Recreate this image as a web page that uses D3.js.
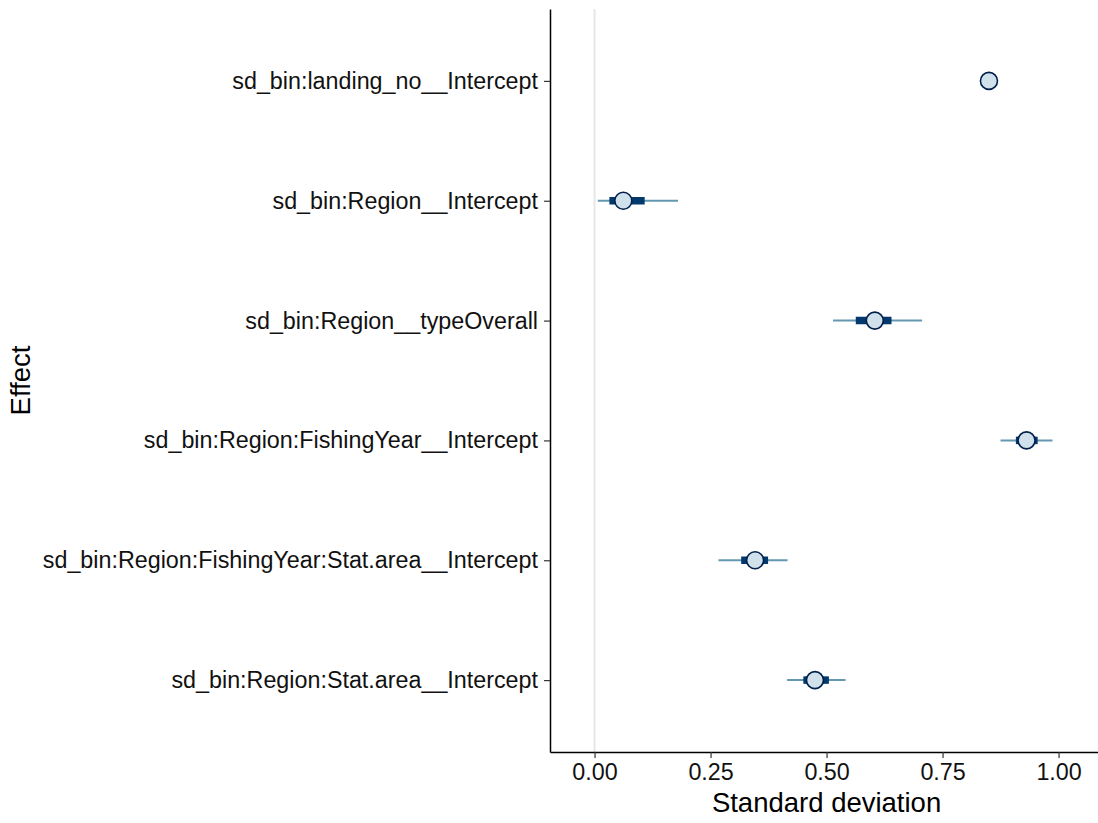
<!DOCTYPE html>
<html>
<head>
<meta charset="utf-8">
<style>
  body { margin: 0; background: #fff; }
  svg { display: block; font-family: "Liberation Sans", Arial, sans-serif; }
  .axis .domain { stroke: #000; stroke-width: 1.5px; }
  .axis .tick line { stroke: #333; stroke-width: 1.2px; }
  .axis .tick text { fill: #111; }
</style>
</head>
<body>
<svg width="1098" height="823"></svg>
<script src="https://d3js.org/d3.v7.min.js"></script>
<script>

var effects = [
  "sd_bin:landing_no__Intercept",
  "sd_bin:Region__Intercept",
  "sd_bin:Region__typeOverall",
  "sd_bin:Region:FishingYear__Intercept",
  "sd_bin:Region:FishingYear:Stat.area__Intercept",
  "sd_bin:Region:Stat.area__Intercept"
];
// posterior median and interval ends, one entry per effect
var medians = [0.850, 0.062, 0.604, 0.931, 0.346, 0.475];
var outerLo = [0.836, 0.007, 0.514, 0.875, 0.267, 0.415];
var outerHi = [0.864, 0.180, 0.706, 0.987, 0.416, 0.541];
var innerLo = [0.842, 0.032, 0.563, 0.908, 0.316, 0.450];
var innerHi = [0.858, 0.108, 0.640, 0.955, 0.374, 0.505];
var xTicks = [0, 0.25, 0.5, 0.75, 1.0];

var svg = d3.select("svg"),
    margin = {top: 9, right: 0, bottom: 71, left: 550},
    width = +svg.attr("width") - margin.left - margin.right,
    height = +svg.attr("height") - margin.top - margin.bottom,
    g = svg.append("g").attr("transform", "translate(" + margin.left + "," + margin.top + ")");

var rows = effects.map(function(e, i) {
  return {name: e, m: medians[i], lo: outerLo[i], hi: outerHi[i], ilo: innerLo[i], ihi: innerHi[i]};
});

var x = d3.scaleLinear()
    .domain([-0.096, 1.085])
    .range([0, width]);

var y = d3.scalePoint()
    .domain(effects)
    .range([0, height])
    .padding(0.6);

// reference line at zero
g.append("line")
    .attr("x1", x(0)).attr("x2", x(0))
    .attr("y1", 0).attr("y2", height)
    .attr("stroke", "#e6e6e6")
    .attr("stroke-width", 2);

var marks = g.selectAll(".row")
  .data(rows)
  .enter().append("g")
    .attr("class", "row");

marks.append("line")
    .attr("x1", function(d) { return x(d.lo); })
    .attr("x2", function(d) { return x(d.hi); })
    .attr("y1", function(d) { return y(d.name); })
    .attr("y2", function(d) { return y(d.name); })
    .attr("stroke", "#6497b1")
    .attr("stroke-width", 2);

marks.append("line")
    .attr("x1", function(d) { return x(d.ilo); })
    .attr("x2", function(d) { return x(d.ihi); })
    .attr("y1", function(d) { return y(d.name); })
    .attr("y2", function(d) { return y(d.name); })
    .attr("stroke", "#03396c")
    .attr("stroke-width", 7.5);

marks.append("circle")
    .attr("cx", function(d) { return x(d.m); })
    .attr("cy", function(d) { return y(d.name); })
    .attr("r", 8.5)
    .attr("fill", "#d1e1ec")
    .attr("stroke", "#011f4b")
    .attr("stroke-width", 1.6);

g.append("g")
    .attr("class", "axis")
    .attr("transform", "translate(0," + height + ")")
    .call(d3.axisBottom(x).tickValues(xTicks).tickFormat(d3.format(".2f")).tickSize(6).tickSizeOuter(0).tickPadding(5))
    .selectAll("text")
    .attr("font-size", "23.3px");

g.append("g")
    .attr("class", "axis")
    .call(d3.axisLeft(y).tickSize(6).tickSizeOuter(0).tickPadding(6))
    .selectAll("text")
    .attr("font-size", "23.3px");

g.selectAll(".axis text").attr("font-family", "'Liberation Sans', Arial, sans-serif");

svg.append("text")
    .attr("x", margin.left + x(0.5))
    .attr("y", 812)
    .attr("text-anchor", "middle")
    .attr("font-size", "27.5px")
    .attr("fill", "#000")
    .text("Standard deviation");

svg.append("text")
    .attr("transform", "translate(30," + (margin.top + height / 2) + ") rotate(-90)")
    .attr("text-anchor", "middle")
    .attr("font-size", "27.5px")
    .attr("fill", "#000")
    .text("Effect");

</script>
</body>
</html>
